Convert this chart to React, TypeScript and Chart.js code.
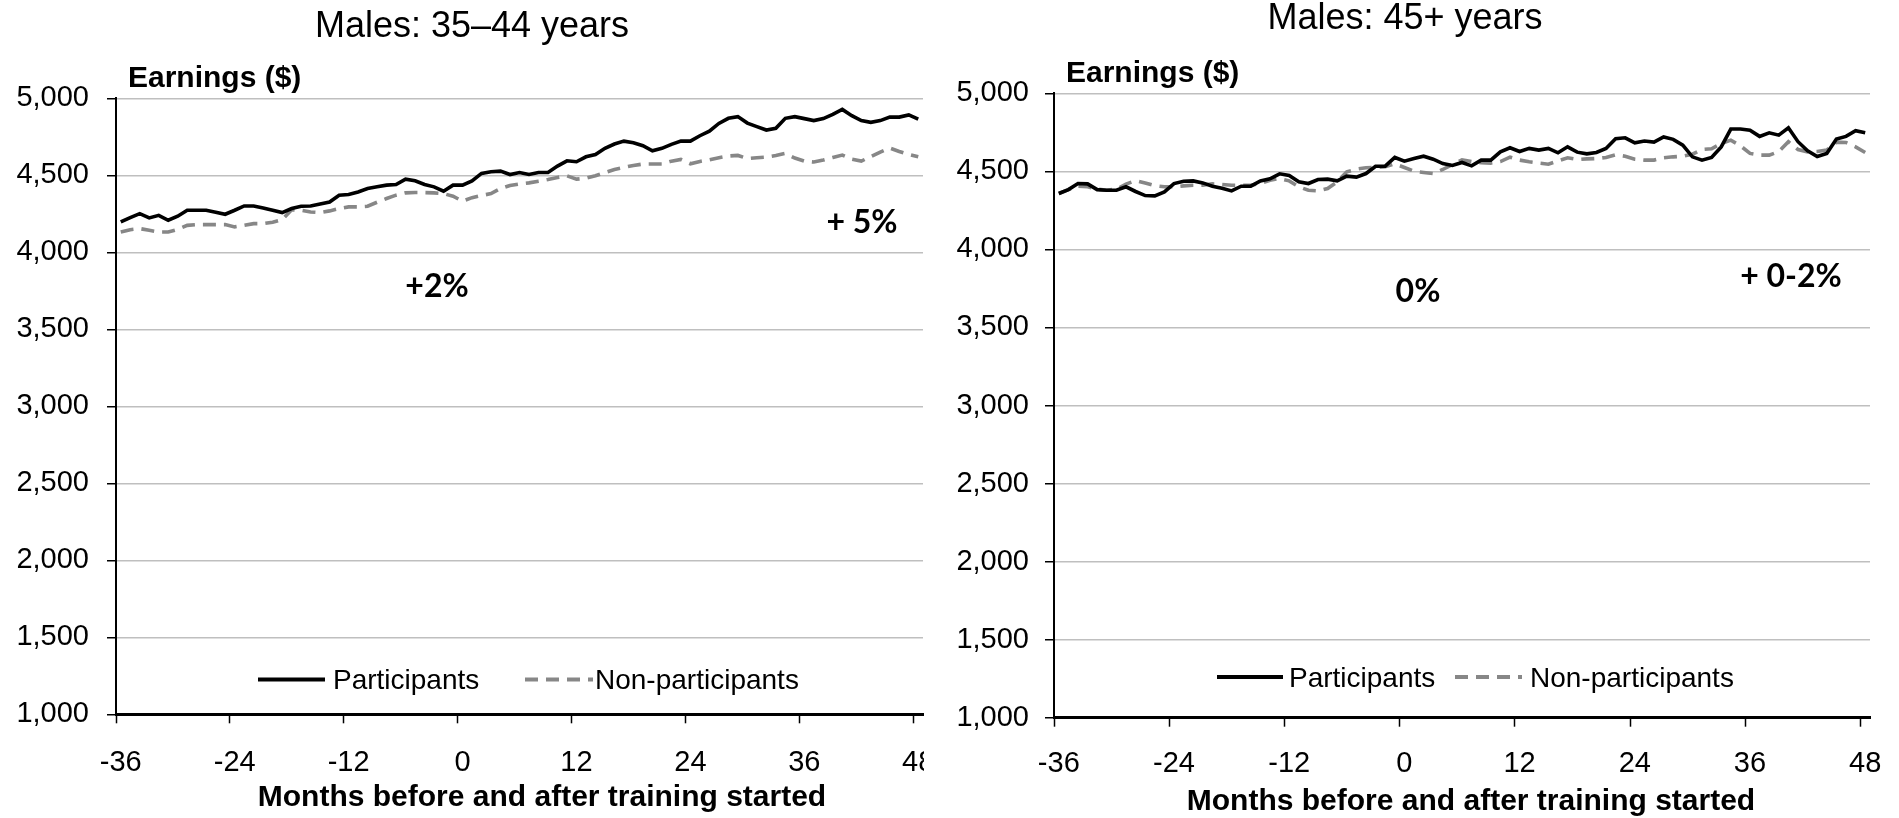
import React, { useEffect, useRef } from "react";
import { Chart, registerables } from "chart.js";

Chart.register(...registerables);

// ---------- data ----------
const months = [
  -36, -35, -34, -33, -32, -31, -30, -29, -28, -27, -26, -25, -24, -23, -22, -21, -20, -19, -18, -17, -16,
  -15, -14, -13, -12, -11, -10, -9, -8, -7, -6, -5, -4, -3, -2, -1, 0, 1, 2, 3, 4, 5, 6, 7, 8, 9, 10, 11,
  12, 13, 14, 15, 16, 17, 18, 19, 20, 21, 22, 23, 24, 25, 26, 27, 28, 29, 30, 31, 32, 33, 34, 35, 36, 37,
  38, 39, 40, 41, 42, 43, 44, 45, 46, 47, 48,
];

const tickMonths = [-36, -24, -12, 0, 12, 24, 36, 48];
const yTickValues = [1000, 1500, 2000, 2500, 3000, 3500, 4000, 4500, 5000];

const seriesNames = ["Participants", "Non-participants"];

const participants3544 = [
  4197, 4225, 4251, 4223, 4240, 4208, 4234, 4273, 4273, 4273, 4260, 4247, 4273, 4301, 4301, 4288, 4273, 4258,
  4284, 4299, 4301, 4314, 4327, 4371, 4375, 4392, 4414, 4425, 4436, 4440, 4475, 4464, 4440, 4425, 4397, 4436,
  4436, 4464, 4512, 4523,
  4527, 4505, 4518, 4505, 4518, 4518, 4560, 4594, 4588, 4620, 4635, 4675, 4703, 4722, 4711, 4692, 4659, 4675,
  4701, 4722, 4722, 4757, 4787, 4837, 4870, 4881, 4839, 4816, 4794, 4805, 4870, 4881, 4868, 4855, 4868, 4896,
  4928, 4887, 4855, 4844, 4855, 4878, 4878, 4892, 4865,
];

const nonParticipants3544 = [
  4132, 4147, 4154, 4143, 4132, 4132, 4149, 4175, 4180, 4180, 4180, 4180, 4165, 4175, 4186, 4186, 4195, 4212,
  4277, 4273, 4262, 4258, 4269, 4284, 4295, 4295, 4299, 4325, 4349, 4371, 4386, 4388, 4388, 4386, 4381, 4364,
  4332, 4355, 4369, 4381,
  4414, 4434, 4444, 4451, 4462, 4473, 4486, 4497, 4475, 4481, 4497, 4518, 4538, 4551, 4564, 4573, 4573, 4573,
  4592, 4603, 4575, 4590, 4601, 4614, 4625, 4629, 4609, 4614, 4618, 4629, 4642, 4612, 4592, 4586, 4599, 4616,
  4631, 4605, 4592, 4622, 4651, 4677, 4655, 4635, 4620,
];

const participants45 = [
  4358, 4383, 4422, 4420, 4383, 4379, 4379, 4401, 4371, 4345, 4343, 4368, 4422, 4437, 4439, 4426, 4405, 4392,
  4375, 4405, 4405, 4439, 4452, 4484, 4473, 4433, 4422, 4448, 4450, 4439, 4469, 4463, 4486, 4533, 4533, 4589,
  4565, 4582, 4597, 4578, 4550,
  4538, 4557, 4535, 4572, 4572, 4625, 4651, 4627, 4647, 4636, 4647, 4619, 4657, 4623, 4612, 4621, 4647, 4709,
  4715, 4683, 4694, 4687, 4720, 4705, 4668, 4593, 4572, 4589, 4657, 4771, 4771, 4764, 4724, 4747, 4732, 4779,
  4690, 4632, 4595, 4615, 4707, 4724, 4760, 4747,
];

const nonParticipants45 = [
  4358, 4383, 4405, 4401, 4386, 4379, 4386, 4418, 4441, 4426, 4409, 4401, 4401, 4407, 4411, 4411, 4420, 4416,
  4411, 4411, 4411, 4422, 4443, 4454, 4439, 4401, 4379, 4375, 4390, 4433, 4497, 4514, 4523, 4525, 4529, 4548,
  4525, 4501, 4493, 4486, 4512,
  4544, 4574, 4563, 4555, 4553, 4563, 4591, 4572, 4561, 4553, 4546, 4567, 4587, 4576, 4580, 4582, 4589, 4606,
  4597, 4578, 4572, 4572, 4587, 4593, 4597, 4610, 4640, 4645, 4679, 4700, 4664, 4615, 4604, 4604, 4627, 4690,
  4640, 4625, 4627, 4636, 4687, 4685, 4657, 4621,
];

// ---------- styling ----------
const SANS = '"Liberation Sans", Arial, Helvetica, sans-serif';
const NOTE = 'Lato, "Open Sans", "Liberation Sans", sans-serif';

// custom drawing of titles, annotations and in-plot legend
const decorPlugin = {
  id: "decor",
  afterDraw(chart: any, _args: any, opts: any) {
    const ctx = chart.ctx as CanvasRenderingContext2D;
    ctx.save();
    ctx.textBaseline = "alphabetic";
    for (const t of opts.texts || []) {
      ctx.font = t.font;
      ctx.fillStyle = t.color || "#000";
      ctx.textAlign = t.align || "left";
      ctx.fillText(t.text, t.x, t.y);
    }
    const legend = opts.legend;
    if (legend) {
      chart.data.datasets.forEach((ds: any, i: number) => {
        const item = legend.items[i];
        ctx.beginPath();
        ctx.setLineDash(ds.borderDash || []);
        ctx.strokeStyle = ds.borderColor;
        ctx.lineWidth = legend.lineWidth;
        ctx.lineCap = "butt";
        ctx.moveTo(item.x1, legend.y);
        ctx.lineTo(item.x2, legend.y);
        ctx.stroke();
        ctx.setLineDash([]);
        ctx.font = legend.font;
        ctx.fillStyle = "#000";
        ctx.textAlign = "left";
        ctx.fillText(ds.label, item.tx, legend.ty);
      });
    }
    ctx.restore();
  },
};

type PanelProps = {
  left: number;
  width: number;
  height: number;
  participants: number[];
  nonParticipants: number[];
  area: { left: number; right: number; top: number; bottom: number };
  tickPadX: number;
  tickPadY: number;
  decor: any;
};

function Panel(props: PanelProps) {
  const ref = useRef<HTMLCanvasElement>(null);

  useEffect(() => {
    const { width, height, area } = props;
    const chart = new Chart(ref.current as HTMLCanvasElement, {
      type: "line",
      data: {
        labels: months.map(String),
        datasets: [
          {
            label: seriesNames[0],
            data: props.participants,
            borderColor: "#000000",
            borderWidth: 3.6,
            pointRadius: 0,
            tension: 0,
            fill: false,
          },
          {
            label: seriesNames[1],
            data: props.nonParticipants,
            borderColor: "#878787",
            borderWidth: 3.6,
            borderDash: [13, 8],
            pointRadius: 0,
            tension: 0,
            fill: false,
          },
        ],
      },
      options: {
        responsive: false,
        animation: false,
        devicePixelRatio: 1,
        layout: {
          autoPadding: false,
          padding: { left: 0, right: width - area.right, top: area.top, bottom: 0 },
        },
        plugins: {
          legend: { display: false },
          title: { display: false },
          tooltip: { enabled: false },
          decor: props.decor,
        } as any,
        scales: {
          x: {
            type: "category",
            offset: true,
            afterFit: (scale: any) => {
              scale.height = height - area.bottom;
              scale.paddingLeft = 0;
              scale.paddingRight = 0;
            },
            border: { display: true, color: "#000", width: 3 },
            grid: {
              offset: true,
              drawOnChartArea: false,
              drawTicks: true,
              tickLength: 9,
              tickWidth: 1.5,
              tickColor: (c: any) =>
                c.index < months.length && tickMonths.includes(months[c.index]) ? "#000" : "rgba(0,0,0,0)",
            },
            ticks: {
              autoSkip: false,
              maxRotation: 0,
              minRotation: 0,
              padding: props.tickPadX,
              color: "#000",
              font: { family: SANS, size: 29 },
              callback: (_v: any, i: number) => (tickMonths.includes(months[i]) ? String(months[i]) : ""),
            },
          },
          y: {
            type: "linear",
            min: yTickValues[0],
            max: yTickValues[yTickValues.length - 1],
            afterFit: (scale: any) => {
              scale.width = area.left;
            },
            afterBuildTicks: (scale: any) => {
              scale.ticks = yTickValues.map((v) => ({ value: v }));
            },
            border: { display: true, color: "#000", width: 2 },
            grid: {
              color: "#bfbfbf",
              lineWidth: 1.5,
              drawTicks: true,
              tickLength: 9,
              tickWidth: 1.5,
              tickColor: "#000",
            },
            ticks: {
              padding: props.tickPadY,
              color: "#000",
              font: { family: SANS, size: 29 },
              callback: (v: any) => Number(v).toLocaleString("en-US"),
            },
          },
        },
      },
      plugins: [decorPlugin as any],
    });
    return () => chart.destroy();
  }, []);

  return (
    <canvas
      ref={ref}
      width={props.width}
      height={props.height}
      style={{ position: "absolute", left: props.left, top: 0, width: props.width, height: props.height }}
    />
  );
}

export default function App() {
  const H = 818;
  const leftDecor = {
    texts: [
      { text: "Males: 35–44 years", font: `36px ${SANS}`, x: 472, y: 37, align: "center" },
      { text: "Earnings ($)", font: `bold 30px ${SANS}`, x: 128, y: 87, align: "left" },
      { text: "Months before and after training started", font: `bold 30px ${SANS}`, x: 542, y: 806, align: "center" },
      { text: "+2%", font: `bold 32px ${NOTE}`, x: 437, y: 297, align: "center" },
      { text: "+ 5%", font: `bold 32px ${NOTE}`, x: 862, y: 233, align: "center" },
    ],
    legend: {
      y: 679.5,
      ty: 689,
      lineWidth: 4,
      font: `28px ${SANS}`,
      items: [
        { x1: 258, x2: 325, tx: 333 },
        { x1: 525, x2: 593, tx: 595 },
      ],
    },
  };
  const rightDecor = {
    texts: [
      { text: "Males: 45+ years", font: `36px ${SANS}`, x: 465, y: 29, align: "center" },
      { text: "Earnings ($)", font: `bold 30px ${SANS}`, x: 126, y: 82, align: "left" },
      { text: "Months before and after training started", font: `bold 30px ${SANS}`, x: 531, y: 810, align: "center" },
      { text: "0%", font: `bold 32px ${NOTE}`, x: 478, y: 302, align: "center" },
      { text: "+ 0-2%", font: `bold 32px ${NOTE}`, x: 851, y: 287, align: "center" },
    ],
    legend: {
      y: 677,
      ty: 687,
      lineWidth: 4,
      font: `28px ${SANS}`,
      items: [
        { x1: 277, x2: 343, tx: 349 },
        { x1: 515, x2: 582, tx: 590 },
      ],
    },
  };

  return (
    <div
      style={{
        position: "fixed",
        left: 0,
        top: 0,
        width: 1899,
        height: H,
        background: "#fff",
        overflow: "hidden",
      }}
    >
      <Panel
        left={0}
        width={924}
        height={H}
        participants={participants3544}
        nonParticipants={nonParticipants3544}
        area={{ left: 116, right: 923, top: 98.3, bottom: 714.3 }}
        tickPadX={22}
        tickPadY={18}
        decor={leftDecor}
      />
      <Panel
        left={940}
        width={959}
        height={H}
        participants={participants45}
        nonParticipants={nonParticipants45}
        area={{ left: 114, right: 930, top: 93.3, bottom: 717.7 }}
        tickPadX={20}
        tickPadY={16}
        decor={rightDecor}
      />
    </div>
  );
}
